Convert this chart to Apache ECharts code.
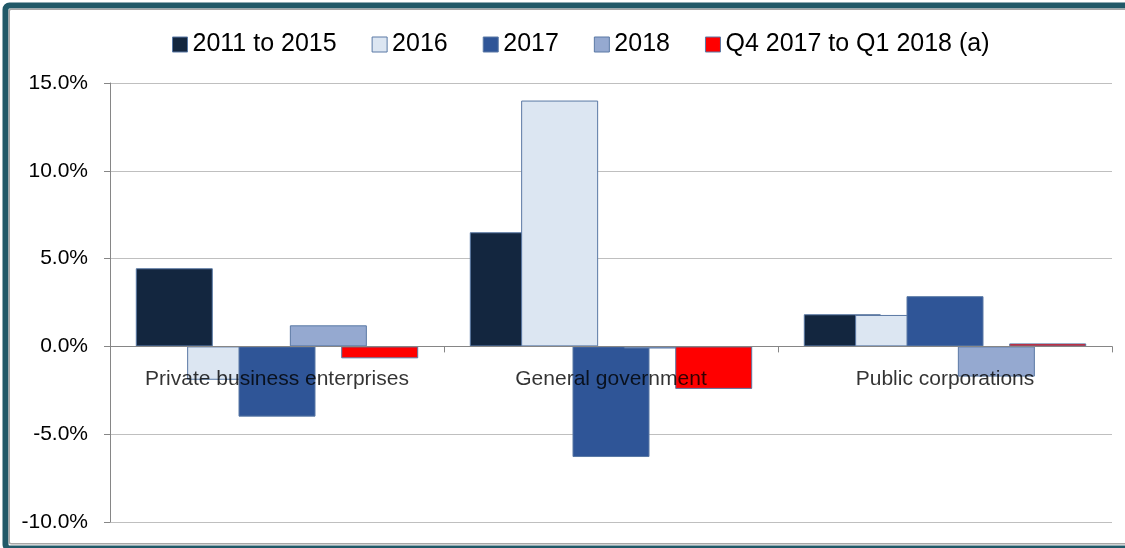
<!DOCTYPE html>
<html>
<head>
<meta charset="utf-8">
<script src="https://cdn.jsdelivr.net/npm/echarts@6/dist/echarts.min.js"></script>
<style>
html,body{margin:0;padding:0;background:#fff;}
#chart{width:1125px;height:548px;}
</style>
</head>
<body>
<div id="chart"></div>
<script>
var categories = ['Private business enterprises', 'General government', 'Public corporations'];
var seriesNames = ['2011 to 2015', '2016', '2017', '2018', 'Q4 2017 to Q1 2018 (a)'];
var s2011to2015 = [4.45, 6.5, 1.83];
var s2016 = [-1.9, 14.0, 1.79];
var s2017 = [-4.0, -6.3, 2.86];
var s2018 = [1.2, -0.12, -1.72];
var sQ4toQ1 = [-0.68, -2.42, 0.17];
var yTicks = [-10, -5, 0, 5, 10, 15];

var colors = ['#13263F', '#DCE6F2', '#2F5597', '#95A9D0', '#FF0000'];
var dataSets = [s2011to2015, s2016, s2017, s2018, sQ4toQ1];

var chart = echarts.init(document.getElementById('chart'), null, {renderer: 'canvas'});
var FONT = '"Liberation Sans", Arial, sans-serif';

var series = seriesNames.map(function (name, i) {
  return {
    name: name,
    type: 'bar',
    data: dataSets[i],
    barWidth: 77,
    barGap: '-33.3%',
    itemStyle: {color: colors[i], borderColor: '#5A79A5', borderWidth: 1},
    emphasis: {disabled: true},
    animation: false
  };
});

// category labels placed at the zero line (drawn through the axes' scales)
series.push({
  name: 'catLabels',
  type: 'scatter',
  data: categories.map(function (c) { return [c, 0]; }),
  symbolSize: 0,
  z: 10,
  silent: true,
  tooltip: {show: false},
  label: {
    show: true,
    position: 'bottom',
    distance: 22,
    fontSize: 21,
    color: '#000',
    fontFamily: FONT,
    formatter: function (p) { return p.value[0]; }
  },
  emphasis: {disabled: true},
  animation: false
});

chart.setOption({
  animation: false,
  textStyle: {fontFamily: FONT},
  legend: {
    left: 167,
    top: 27,
    itemWidth: 15,
    itemHeight: 15,
    itemGap: 35,
    icon: 'rect',
    textStyle: {fontSize: 25, color: '#000', fontFamily: FONT},
    itemStyle: {borderColor: '#5A79A5', borderWidth: 1},
    data: seriesNames
  },
  grid: {left: 110, right: 13, top: 83, bottom: 26, containLabel: false, outerBoundsMode: 'none'},
  xAxis: {
    type: 'category',
    data: categories,
    z: 5,
    axisLine: {onZero: true, lineStyle: {color: '#868686', width: 1}},
    axisTick: {show: true, length: 6, lineStyle: {color: '#868686'}},
    axisLabel: {show: false},
    splitLine: {show: false}
  },
  yAxis: {
    type: 'value',
    min: yTicks[0],
    max: yTicks[yTicks.length - 1],
    interval: 5,
    axisLine: {show: true, lineStyle: {color: '#868686'}},
    axisTick: {show: true, length: 6, lineStyle: {color: '#868686'}},
    axisLabel: {
      margin: 22, fontSize: 21, color: '#000', fontFamily: FONT,
      formatter: function (v) { return v.toFixed(1) + '%'; }
    },
    splitLine: {show: true, lineStyle: {color: '#BFBFBF', width: 1}}
  },
  graphic: [
    {type: 'rect', silent: true, z: 100,
      shape: {x: 5.5, y: 5.5, width: 1130, height: 543, r: 4},
      style: {fill: 'none', stroke: '#215968', lineWidth: 6}},
    {type: 'rect', silent: true, z: 100,
      shape: {x: 9.25, y: 9.25, width: 1130, height: 534.5, r: 2},
      style: {fill: 'none', stroke: '#A6A6A6', lineWidth: 1.5}}
  ],
  series: series
});
</script>
</body>
</html>
